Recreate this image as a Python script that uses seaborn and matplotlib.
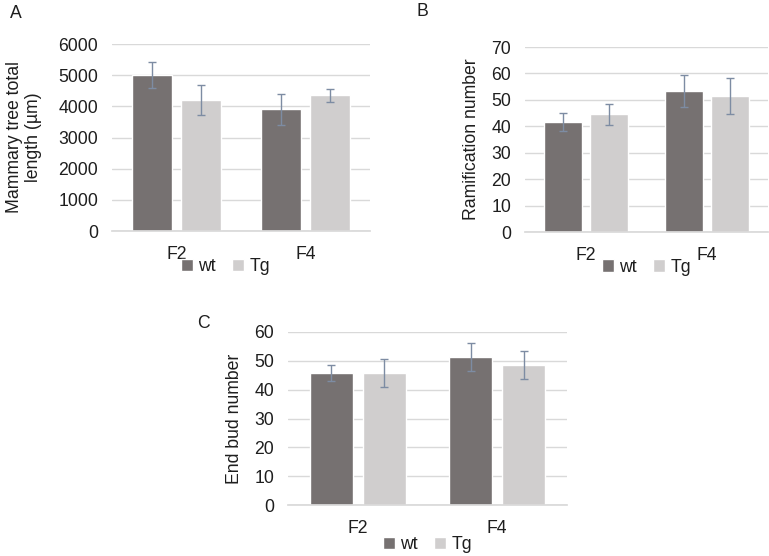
import matplotlib
matplotlib.use("Agg")
import matplotlib.pyplot as plt
import numpy as np
import pandas as pd
import seaborn as sns

# ~~~ Data ~~~
generations = ["F2", "F4"]
genotypes = ["wt", "Tg"]

length_wt = [5000, 3900]
length_tg = [4200, 4350]
length_err_wt = [420, 510]
length_err_tg = [470, 210]

ramif_wt = [41.7, 53.3]
ramif_tg = [44.5, 51.5]
ramif_err_wt = [3.5, 6.0]
ramif_err_tg = [4.0, 6.7]

endbud_wt = [45.8, 51.4]
endbud_tg = [45.8, 48.5]
endbud_err_wt = [2.7, 4.8]
endbud_err_tg = [4.8, 4.9]

colors = {"wt": "#767171", "Tg": "#d0cece"}
err_color = "#7d8ca3"
grid_color = "#d9d9d9"
text_color = "#1e1e1e"
fs = 12.7

sns.set_theme(style="white")
plt.rcParams["font.family"] = ["Liberation Sans", "DejaVu Sans"]
plt.rcParams["text.color"] = text_color
plt.rcParams["axes.labelcolor"] = text_color
plt.rcParams["xtick.color"] = text_color
plt.rcParams["ytick.color"] = text_color

W, H = 769, 556
fig = plt.figure(figsize=(W / 100, H / 100), dpi=100)


def px_axes(left, top, right, bottom):
    return fig.add_axes([left / W, 1 - bottom / H, (right - left) / W, (bottom - top) / H])


def draw_panel(ax, wt, tg, err_wt, err_tg, ymax, step, ylabel, legend_xy, labelpad):
    df = pd.DataFrame({
        "generation": generations * 2,
        "genotype": ["wt"] * 2 + ["Tg"] * 2,
        "value": wt + tg,
    })
    sns.barplot(data=df, x="generation", y="value", hue="genotype",
                hue_order=genotypes, palette=colors, errorbar=None,
                width=0.76, gap=0.18, saturation=1, ax=ax)

    # ~~~ error bars on top of seaborn's bars ~~~
    for cont, errs in zip(ax.containers, [err_wt, err_tg]):
        xs = [p.get_x() + p.get_width() / 2 for p in cont.patches]
        hs = [p.get_height() for p in cont.patches]
        ax.errorbar(xs, hs, yerr=errs, fmt="none", ecolor=err_color,
                    elinewidth=1.0, capsize=3, capthick=1.0, zorder=5)

    ax.set_xlim(-0.5, 1.5)
    ax.set_ylim(0, ymax)
    ax.set_yticks(np.arange(0, ymax + step / 2, step))
    ax.yaxis.grid(True, color=grid_color, linewidth=1)
    ax.set_axisbelow(True)
    for side in ["top", "right", "left"]:
        ax.spines[side].set_visible(False)
    ax.spines["bottom"].set_color(grid_color)
    ax.tick_params(axis="both", length=0, labelsize=fs)
    ax.tick_params(axis="y", pad=10)
    ax.tick_params(axis="x", pad=11)
    ax.set_xlabel("")
    ax.set_ylabel(ylabel, fontsize=fs, linespacing=1.15, labelpad=labelpad)

    handles, labels = ax.get_legend_handles_labels()
    ax.legend(handles, labels, loc="center", bbox_to_anchor=legend_xy, ncol=2,
              frameon=False, fontsize=fs, handlelength=0.7, handleheight=0.7,
              handletextpad=0.3, columnspacing=0.9, borderaxespad=0)


ax_a = px_axes(112, 44, 370, 231)
draw_panel(ax_a, length_wt, length_tg, length_err_wt, length_err_tg, 6000, 1000,
           "Mammary tree total\nlength (µm)", (0.44, -0.19), 12)

ax_b = px_axes(525, 47, 768, 232)
draw_panel(ax_b, ramif_wt, ramif_tg, ramif_err_wt, ramif_err_tg, 70, 10,
           "Ramification number", (0.50, -0.19), 8)

ax_c = px_axes(288, 332, 567, 505)
draw_panel(ax_c, endbud_wt, endbud_tg, endbud_err_wt, endbud_err_tg, 60, 10,
           "End bud number", (0.50, -0.23), 8)

# ~~~ Panel letters ~~~
fig.text(10 / W, 1 - 14 / H, "A", fontsize=fs, va="center", ha="left")
fig.text(416 / W, 1 - 12 / H, "B", fontsize=fs, va="center", ha="left")
fig.text(197 / W, 1 - 323 / H, "C", fontsize=fs, va="center", ha="left")

fig.savefig("out.png", dpi=100, facecolor="white")
